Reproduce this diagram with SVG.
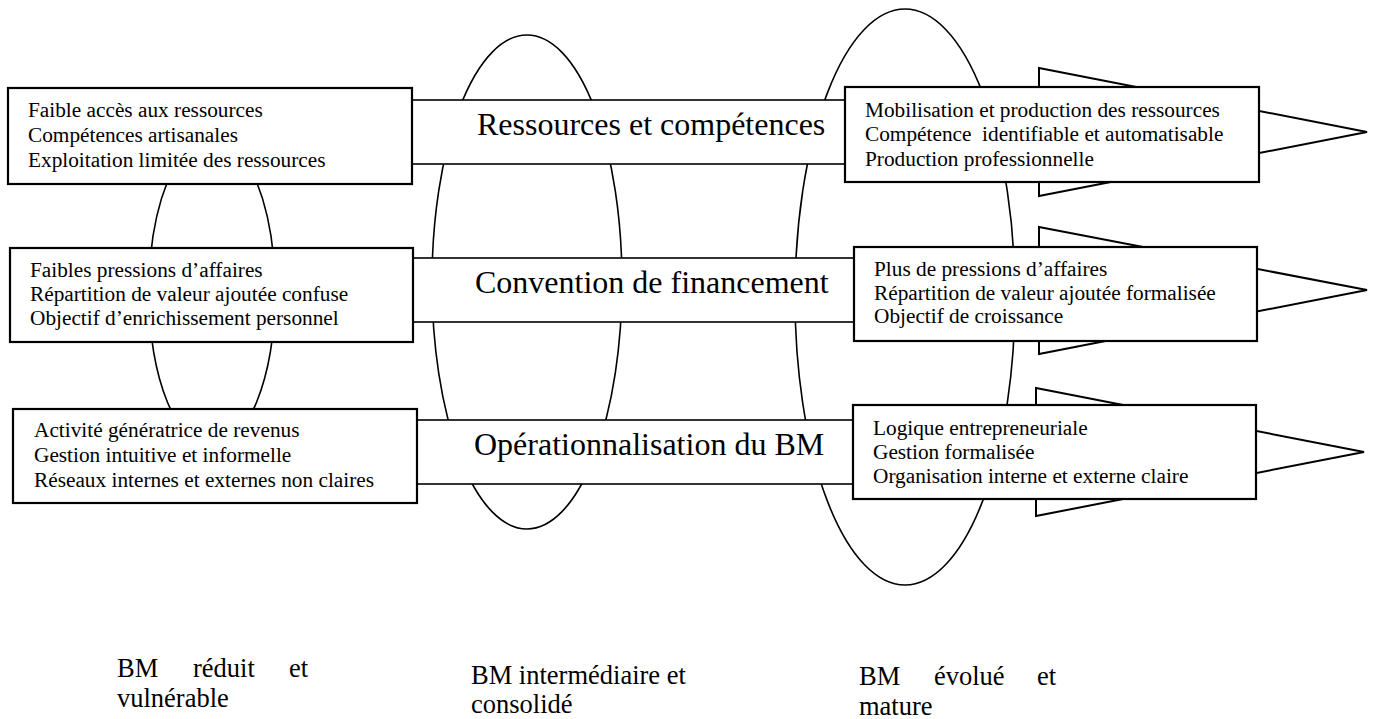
<svg xmlns="http://www.w3.org/2000/svg" width="1374" height="719" viewBox="0 0 1374 719">
<style>
.bg{fill:#ffffff}
.ell{fill:none;stroke:#000;stroke-width:1.6}
.arr{fill:#fff;stroke:#000;stroke-width:2}
.band{fill:#fff;stroke:#000;stroke-width:1.6}
.box{fill:#fff;stroke:#000;stroke-width:2.2}
.t{font-family:"Liberation Serif","Times New Roman",serif;fill:#000}
.bt{font-size:21.3px}
.big{font-size:32px}
.lab{font-size:26.5px}
</style>
<rect class="bg" x="0" y="0" width="1374" height="719"/>
<g id="stages">
  <ellipse id="stage-1" class="ell" cx="212" cy="292" rx="63" ry="156"/>
  <ellipse id="stage-2" class="ell" cx="527" cy="282" rx="95" ry="247"/>
  <ellipse id="stage-3" class="ell" cx="905" cy="297" rx="110" ry="288"/>
</g>
<g id="connectors">
  <polygon class="arr" points="1039,68 1367,132 1039,196"/>
  <polygon class="arr" points="1039,227 1367,290 1039,354"/>
  <polygon class="arr" points="1036,388 1364,452 1036,516"/>
</g>
<g id="band-ressources">
  <rect class="band" x="412" y="100" width="433" height="64"/>
  <text class="t big" x="477" y="135">Ressources et compétences</text>
</g>
<g id="band-convention">
  <rect class="band" x="413" y="258" width="441" height="64"/>
  <text class="t big" x="475" y="293">Convention de financement</text>
</g>
<g id="band-operationnalisation">
  <rect class="band" x="417" y="420" width="436" height="64"/>
  <text class="t big" x="474" y="455">Opérationnalisation du BM</text>
</g>
<g id="left-ressources">
  <rect class="box" x="8" y="88" width="404" height="96"/>
  <text class="t bt" x="28" y="117">Faible accès aux ressources</text>
  <text class="t bt" x="28" y="142">Compétences artisanales</text>
  <text class="t bt" x="28" y="167">Exploitation limitée des ressources</text>
</g>
<g id="left-convention">
  <rect class="box" x="10" y="248" width="403" height="94"/>
  <text class="t bt" x="30" y="277">Faibles pressions d’affaires</text>
  <text class="t bt" x="30" y="301">Répartition de valeur ajoutée confuse</text>
  <text class="t bt" x="30" y="325">Objectif d’enrichissement personnel</text>
</g>
<g id="left-operationnalisation">
  <rect class="box" x="13" y="409" width="404" height="94"/>
  <text class="t bt" x="34" y="437">Activité génératrice de revenus</text>
  <text class="t bt" x="34" y="462">Gestion intuitive et informelle</text>
  <text class="t bt" x="34" y="487">Réseaux internes et externes non claires</text>
</g>
<g id="right-ressources">
  <rect class="box" x="845" y="87" width="414" height="95"/>
  <text class="t bt" x="865" y="117">Mobilisation et production des ressources</text>
  <text class="t bt" x="865" y="141" xml:space="preserve">Compétence  identifiable et automatisable</text>
  <text class="t bt" x="865" y="166">Production professionnelle</text>
</g>
<g id="right-convention">
  <rect class="box" x="854" y="247" width="403" height="94"/>
  <text class="t bt" x="874" y="276">Plus de pressions d’affaires</text>
  <text class="t bt" x="874" y="300">Répartition de valeur ajoutée formalisée</text>
  <text class="t bt" x="874" y="323">Objectif de croissance</text>
</g>
<g id="right-operationnalisation">
  <rect class="box" x="853" y="405" width="403" height="94"/>
  <text class="t bt" x="873" y="435">Logique entrepreneuriale</text>
  <text class="t bt" x="873" y="459">Gestion formalisée</text>
  <text class="t bt" x="873" y="483">Organisation interne et externe claire</text>
</g>
<g id="label-reduit">
  <text class="t lab" x="117" y="677">BM</text>
  <text class="t lab" x="193" y="677">réduit</text>
  <text class="t lab" x="308" y="677" text-anchor="end">et</text>
  <text class="t lab" x="117" y="707">vulnérable</text>
</g>
<g id="label-intermediaire">
  <text class="t lab" x="471" y="684">BM intermédiaire et</text>
  <text class="t lab" x="471" y="713">consolidé</text>
</g>
<g id="label-evolue">
  <text class="t lab" x="859" y="685">BM</text>
  <text class="t lab" x="934" y="685">évolué</text>
  <text class="t lab" x="1056" y="685" text-anchor="end">et</text>
  <text class="t lab" x="859" y="715">mature</text>
</g>
</svg>
